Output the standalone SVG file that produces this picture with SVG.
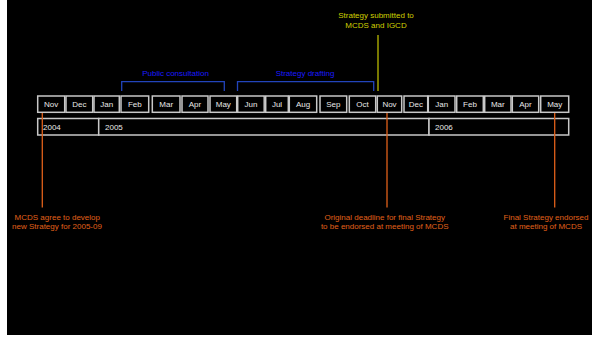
<svg xmlns="http://www.w3.org/2000/svg" width="592" height="337" viewBox="0 0 592 337">
<style>
.m{fill:#000;stroke:#c8c8c8;stroke-width:1.5}
.mt{font-family:"Liberation Sans",Arial,sans-serif;font-size:8px;fill:#e8e8e8;text-anchor:middle}
.yt{font-family:"Liberation Sans",Arial,sans-serif;font-size:8px;fill:#e8e8e8}
.br{fill:none;stroke:#2244bb;stroke-width:1.3}
.bt{font-family:"Liberation Sans",Arial,sans-serif;font-size:8px;fill:#1a1aff;text-anchor:middle}
.ol{stroke:#e0601a;stroke-width:1.3}
.ot{font-family:"Liberation Sans",Arial,sans-serif;font-size:8px;fill:#e0601a;text-anchor:middle}
.yl{stroke:#a0a000;stroke-width:1.5}
.ytx{font-family:"Liberation Sans",Arial,sans-serif;font-size:8px;fill:#d0d000;text-anchor:middle}
</style>
<rect x="0" y="0" width="592" height="337" fill="#fff"/>
<rect x="7" y="0" width="585" height="335" fill="#000"/>
<g id="months">
<g id="m-nov04"><rect class="m" x="37.7" y="96" width="27" height="16.3"/><text class="mt" x="51.2" y="107">Nov</text></g>
<g id="m-dec04"><rect class="m" x="66" y="96" width="26.7" height="16.3"/><text class="mt" x="79.3" y="107">Dec</text></g>
<g id="m-jan05"><rect class="m" x="94" y="96" width="25.3" height="16.3"/><text class="mt" x="106.7" y="107">Jan</text></g>
<g id="m-feb05"><rect class="m" x="121" y="96" width="27.7" height="16.3"/><text class="mt" x="134.8" y="107">Feb</text></g>
<g id="m-mar05"><rect class="m" x="152.3" y="96" width="27.7" height="16.3"/><text class="mt" x="166.2" y="107">Mar</text></g>
<g id="m-apr05"><rect class="m" x="182" y="96" width="26" height="16.3"/><text class="mt" x="195" y="107">Apr</text></g>
<g id="m-may05"><rect class="m" x="210" y="96" width="26.7" height="16.3"/><text class="mt" x="223.3" y="107">May</text></g>
<g id="m-jun05"><rect class="m" x="237.7" y="96" width="26.5" height="16.3"/><text class="mt" x="251" y="107">Jun</text></g>
<g id="m-jul05"><rect class="m" x="265.7" y="96" width="22.6" height="16.3"/><text class="mt" x="277" y="107">Jul</text></g>
<g id="m-aug05"><rect class="m" x="289.3" y="96" width="27.4" height="16.3"/><text class="mt" x="303" y="107">Aug</text></g>
<g id="m-sep05"><rect class="m" x="320" y="96" width="26.7" height="16.3"/><text class="mt" x="333.3" y="107">Sep</text></g>
<g id="m-oct05"><rect class="m" x="349.3" y="96" width="26.4" height="16.3"/><text class="mt" x="362.5" y="107">Oct</text></g>
<g id="m-nov05"><rect class="m" x="377.3" y="96" width="24.4" height="16.3"/><text class="mt" x="389.5" y="107">Nov</text></g>
<g id="m-dec05"><rect class="m" x="404" y="96" width="23.7" height="16.3"/><text class="mt" x="415.8" y="107">Dec</text></g>
<g id="m-jan06"><rect class="m" x="428.3" y="96" width="26.7" height="16.3"/><text class="mt" x="441.7" y="107">Jan</text></g>
<g id="m-feb06"><rect class="m" x="456.7" y="96" width="26.6" height="16.3"/><text class="mt" x="470" y="107">Feb</text></g>
<g id="m-mar06"><rect class="m" x="484.7" y="96" width="26.3" height="16.3"/><text class="mt" x="497.8" y="107">Mar</text></g>
<g id="m-apr06"><rect class="m" x="512.3" y="96" width="26.4" height="16.3"/><text class="mt" x="525.5" y="107">Apr</text></g>
<g id="m-may06"><rect class="m" x="540.7" y="96" width="28" height="16.3"/><text class="mt" x="554.7" y="107">May</text></g>
</g>
<g id="years">
<g id="y2004"><rect class="m" x="37.7" y="118.5" width="61" height="16.5"/><text class="yt" x="43" y="130">2004</text></g>
<g id="y2005"><rect class="m" x="98.7" y="118.5" width="330.3" height="16.5"/><text class="yt" x="105" y="130">2005</text></g>
<g id="y2006"><rect class="m" x="429" y="118.5" width="139.7" height="16.5"/><text class="yt" x="435" y="130">2006</text></g>
</g>
<g id="phases">
<g id="public-consultation"><polyline class="br" points="121.7,91 121.7,81.7 224.3,81.7 224.3,91"/><text class="bt" x="175.5" y="75.5">Public consultation</text></g>
<g id="strategy-drafting"><polyline class="br" points="237.5,91 237.5,81.7 373.7,81.7 373.7,91"/><text class="bt" x="305" y="75.5">Strategy drafting</text></g>
</g>
<g id="connectors">
<line class="yl" x1="378" y1="35" x2="378" y2="91"/>
<line class="ol" x1="42.3" y1="113" x2="42.3" y2="207.5"/>
<line class="ol" x1="387" y1="113" x2="387" y2="207.5"/>
<line class="ol" x1="554.7" y1="113" x2="554.7" y2="207.5"/>
</g>
<g id="events">
<g id="submitted"><text class="ytx" x="376" y="18.3">Strategy submitted to</text><text class="ytx" x="376" y="27.8">MCDS and IGCD</text></g>
<g id="agree"><text class="ot" x="57.3" y="219.5">MCDS agree to develop</text><text class="ot" x="57" y="228.5">new Strategy for 2005-09</text></g>
<g id="deadline"><text class="ot" x="384.7" y="219.5">Original deadline for final Strategy</text><text class="ot" x="384.7" y="228.5">to be endorsed at meeting of MCDS</text></g>
<g id="endorsed"><text class="ot" x="546" y="219.5">Final Strategy endorsed</text><text class="ot" x="546" y="228.5">at meeting of MCDS</text></g>
</g>
</svg>
